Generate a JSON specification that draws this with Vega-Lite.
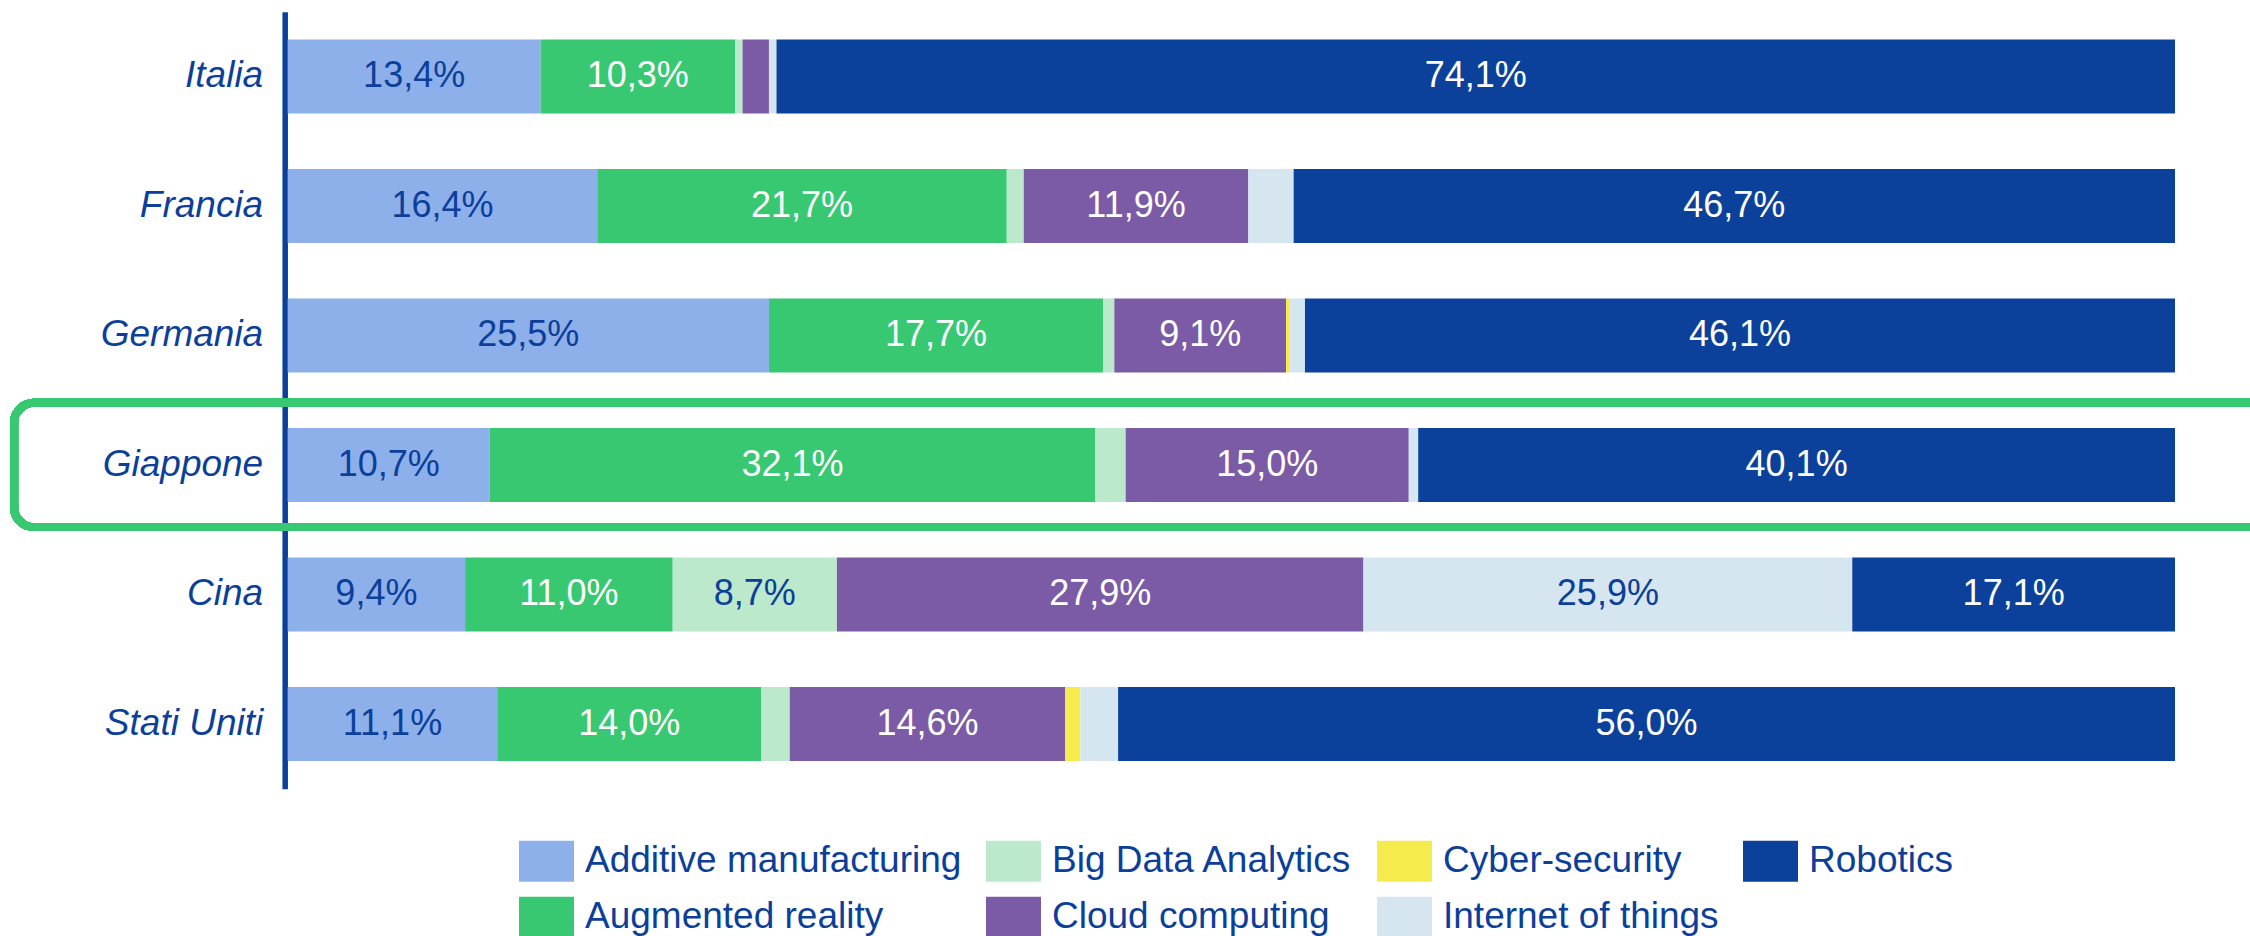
{
  "$schema": "https://vega.github.io/schema/vega-lite/v6.json",
  "width": 1887.3,
  "height": 777,
  "autosize": {"type": "none"},
  "padding": {"left": 287.7, "top": 11.7, "right": 75, "bottom": 147.3},
  "background": "white",
  "config": {"view": {"stroke": null}, "font": "Liberation Sans"},
  "data": {
    "values": [
      {"country": "Italia", "cat": "Additive manufacturing", "v": 13.4},
      {"country": "Italia", "cat": "Augmented reality", "v": 10.3},
      {"country": "Italia", "cat": "Big Data Analytics", "v": 0.4},
      {"country": "Italia", "cat": "Cloud computing", "v": 1.4},
      {"country": "Italia", "cat": "Internet of things", "v": 0.4},
      {"country": "Italia", "cat": "Robotics", "v": 74.1},
      {"country": "Francia", "cat": "Additive manufacturing", "v": 16.4},
      {"country": "Francia", "cat": "Augmented reality", "v": 21.7},
      {"country": "Francia", "cat": "Big Data Analytics", "v": 0.9},
      {"country": "Francia", "cat": "Cloud computing", "v": 11.9},
      {"country": "Francia", "cat": "Internet of things", "v": 2.4},
      {"country": "Francia", "cat": "Robotics", "v": 46.7},
      {"country": "Germania", "cat": "Additive manufacturing", "v": 25.5},
      {"country": "Germania", "cat": "Augmented reality", "v": 17.7},
      {"country": "Germania", "cat": "Big Data Analytics", "v": 0.6},
      {"country": "Germania", "cat": "Cloud computing", "v": 9.1},
      {"country": "Germania", "cat": "Cyber-security", "v": 0.2},
      {"country": "Germania", "cat": "Internet of things", "v": 0.8},
      {"country": "Germania", "cat": "Robotics", "v": 46.1},
      {"country": "Giappone", "cat": "Additive manufacturing", "v": 10.7},
      {"country": "Giappone", "cat": "Augmented reality", "v": 32.1},
      {"country": "Giappone", "cat": "Big Data Analytics", "v": 1.6},
      {"country": "Giappone", "cat": "Cloud computing", "v": 15.0},
      {"country": "Giappone", "cat": "Internet of things", "v": 0.5},
      {"country": "Giappone", "cat": "Robotics", "v": 40.1},
      {"country": "Cina", "cat": "Additive manufacturing", "v": 9.4},
      {"country": "Cina", "cat": "Augmented reality", "v": 11.0},
      {"country": "Cina", "cat": "Big Data Analytics", "v": 8.7},
      {"country": "Cina", "cat": "Cloud computing", "v": 27.9},
      {"country": "Cina", "cat": "Internet of things", "v": 25.9},
      {"country": "Cina", "cat": "Robotics", "v": 17.1},
      {"country": "Stati Uniti", "cat": "Additive manufacturing", "v": 11.1},
      {"country": "Stati Uniti", "cat": "Augmented reality", "v": 14.0},
      {"country": "Stati Uniti", "cat": "Big Data Analytics", "v": 1.5},
      {"country": "Stati Uniti", "cat": "Cloud computing", "v": 14.6},
      {"country": "Stati Uniti", "cat": "Cyber-security", "v": 0.8},
      {"country": "Stati Uniti", "cat": "Internet of things", "v": 2.0},
      {"country": "Stati Uniti", "cat": "Robotics", "v": 56.0}
    ]
  },
  "transform": [
    {"stack": "v", "groupby": ["country"], "sort": [{"field": "cat", "order": "ascending"}], "as": ["v0", "v1"]},
    {"calculate": "(datum.v0 + datum.v1) / 2", "as": "mid"},
    {"calculate": "replace(format(datum.v, '.1f'), '.', ',') + '%'", "as": "label"}
  ],
  "layer": [
    {
      "mark": {"type": "bar", "height": {"band": 0.571}},
      "encoding": {
        "y": {
          "field": "country", "type": "nominal",
          "scale": {"domain": ["Italia", "Francia", "Germania", "Giappone", "Cina", "Stati Uniti"], "paddingInner": 0, "paddingOuter": 0},
          "axis": {"title": null, "domainColor": "#0b3f9a", "domainWidth": 5.5, "domainCap": "butt", "ticks": false, "tickSize": 0, "grid": false, "labelFont": "Liberation Sans", "labelFontStyle": "italic", "labelFontSize": 37, "labelColor": "#0b3f9a", "labelPadding": 22, "offset": 3}
        },
        "x": {"field": "v0", "type": "quantitative", "scale": {"domain": [0, 100], "nice": false}, "axis": null},
        "x2": {"field": "v1"},
        "color": {
          "field": "cat", "type": "nominal",
          "scale": {
            "domain": ["Additive manufacturing", "Big Data Analytics", "Cyber-security", "Robotics", "Augmented reality", "Cloud computing", "Internet of things"],
            "range": ["#8eb0ea", "#bce8cb", "#f6eb4d", "#0b419b", "#37c871", "#7b5ba6", "#d6e6f0"]
          },
          "legend": {"orient": "none", "legendX": 231.3, "legendY": 822, "direction": "horizontal", "columns": 4, "title": null, "symbolType": "M-1,-0.745H1V0.745H-1Z", "symbolSize": 3025, "symbolStrokeWidth": 0, "symbolOpacity": 1, "labelFontSize": 37, "labelFont": "Liberation Sans", "labelColor": "#0b3f9a", "labelOffset": 11, "columnPadding": 24, "rowPadding": 8, "padding": 0, "labelLimit": 0, "symbolOffset": 0}
        }
      }
    },
    {
      "transform": [{"filter": "datum.v >= 5"}],
      "mark": {"type": "text", "fontSize": 36, "font": "Liberation Sans", "baseline": "middle", "align": "center"},
      "encoding": {
        "y": {"field": "country", "type": "nominal"},
        "x": {"field": "mid", "type": "quantitative"},
        "text": {"field": "label"},
        "color": {
          "condition": {"test": "indexof(['Additive manufacturing','Big Data Analytics','Internet of things'], datum.cat) >= 0", "value": "#0b3f9a"},
          "value": "white"
        }
      }
    },
    {
      "mark": {"type": "rect", "filled": false, "stroke": "#37c871", "strokeWidth": 8, "cornerRadius": 20, "height": {"band": 0.96}},
      "encoding": {
        "y": {"datum": "Giappone", "type": "nominal"},
        "x": {"datum": -14.5},
        "x2": {"datum": 106}
      }
    }
  ]
}
